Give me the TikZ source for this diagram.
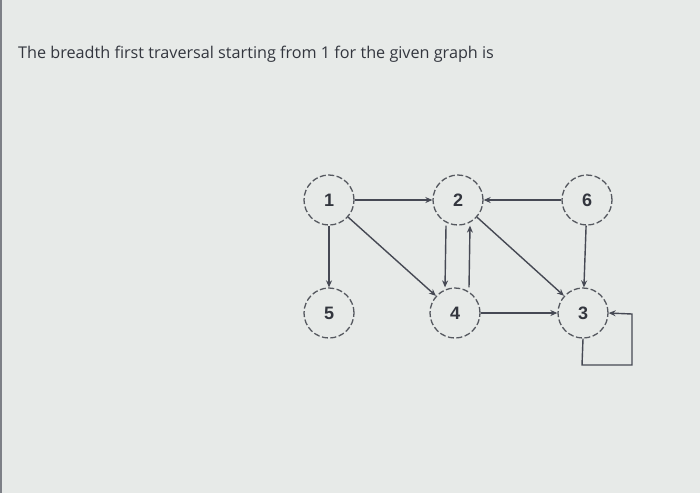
\documentclass[tikz,border=0pt]{standalone}
\usepackage{fontspec}
\setmainfont{Open Sans}
\newfontfamily\nodefont{Liberation Sans}
\usetikzlibrary{arrows.meta}
\definecolor{bgc}{HTML}{E7EAE8}
\definecolor{edgec}{HTML}{464954}
\definecolor{circc}{HTML}{55585F}
\definecolor{txtc}{HTML}{33363E}
\tikzset{
  vtx/.style={circle, draw=circc, dashed, dash pattern=on 6pt off 2.5pt, line width=1.3pt, minimum size=50pt, inner sep=0pt, font=\nodefont\bfseries\fontsize{18}{18}\selectfont, text=txtc},
  edge/.style={draw=edgec, line width=1.4pt, -{Stealth[length=7pt,width=6pt]}},
}
\begin{document}
\begin{tikzpicture}[x=1pt,y=-1pt]
\fill[bgc] (0,0) rectangle (700,493);
\fill[edgec!70] (0,0) rectangle (1.5,493);
\useasboundingbox (0,0) rectangle (700,493);
\node[anchor=base west, inner sep=0pt, text=txtc, font=\fontsize{16.2}{18}\selectfont] (title) at (18,58) {The breadth first traversal starting from 1 for the given graph is};
\node[vtx] (n1) at (329,200) {1};
\node[vtx] (n2) at (458,200) {2};
\node[vtx] (n6) at (587,200) {6};
\node[vtx] (n5) at (329,313) {5};
\node[vtx] (n4) at (455,313) {4};
\node[vtx] (n3) at (583,313) {3};
\draw[edge] (n1) -- (n2);
\draw[edge] (n6) -- (n2);
\draw[edge] (n1) -- (n5);
\draw[edge] (n1) -- (n4);
\draw[edge] ([xshift=-12pt]n2.south) -- ([xshift=-10pt]n4.north);
\draw[edge] ([xshift=14pt]n4.north) -- ([xshift=12pt]n2.south);
\draw[edge] (n2) -- (n3);
\draw[edge] (n6) -- (n3);
\draw[edge] (n4) -- (n3);
\coordinate (c1) at (582,365);
\coordinate (c2) at (632,365);
\coordinate (c3) at (632,314);
\draw[edge] (n3.south) -- (c1) -- (c2) -- (c3) -- (n3.east);
\end{tikzpicture}
\end{document}
